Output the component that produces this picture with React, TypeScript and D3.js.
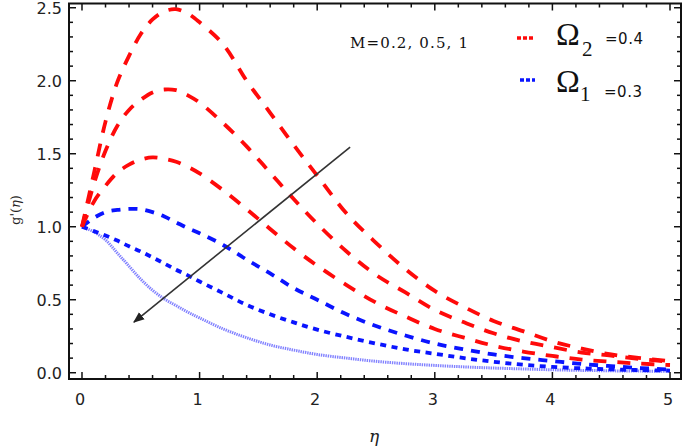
import * as d3 from "d3"

// eta grid shared by all curves
const ETA = [0, 0.1, 0.2, 0.3, 0.4, 0.5, 0.6, 0.7, 0.8, 0.9, 1.0, 1.2, 1.4, 1.6, 1.8, 2.0, 2.25, 2.5, 2.75, 3.0, 3.25, 3.5, 3.75, 4.0, 4.25, 4.5, 4.75, 5.0]

// Omega2 = 0.4 (red), M = 0.2, 0.5, 1
const RED_M02 = [1.0, 1.36, 1.72, 1.99, 2.17, 2.32, 2.42, 2.475, 2.49, 2.46, 2.4, 2.25, 2.0, 1.78, 1.56, 1.35, 1.09, 0.89, 0.71, 0.56, 0.45, 0.355, 0.285, 0.215, 0.165, 0.125, 0.1, 0.08]
const RED_M05 = [1.0, 1.29, 1.52, 1.69, 1.8, 1.87, 1.92, 1.94, 1.935, 1.9, 1.85, 1.71, 1.55, 1.37, 1.19, 1.02, 0.83, 0.67, 0.55, 0.43, 0.345, 0.27, 0.215, 0.175, 0.138, 0.117, 0.094, 0.075]
const RED_M1 = [1.0, 1.17, 1.28, 1.37, 1.425, 1.46, 1.475, 1.465, 1.445, 1.41, 1.365, 1.25, 1.12, 0.985, 0.852, 0.733, 0.6, 0.48, 0.385, 0.3, 0.24, 0.185, 0.145, 0.115, 0.09, 0.075, 0.062, 0.053]

// Omega1 = 0.3 (blue), M = 0.2, 0.5, 1
const BLUE_M02 = [1.0, 1.06, 1.1, 1.115, 1.122, 1.12, 1.1, 1.07, 1.03, 0.99, 0.955, 0.875, 0.775, 0.68, 0.58, 0.5, 0.4, 0.32, 0.255, 0.2, 0.16, 0.125, 0.1, 0.08, 0.06, 0.045, 0.032, 0.022]
const BLUE_M05 = [1.0, 0.97, 0.94, 0.905, 0.866, 0.83, 0.79, 0.748, 0.705, 0.667, 0.625, 0.545, 0.465, 0.4, 0.345, 0.295, 0.245, 0.2, 0.16, 0.13, 0.1, 0.075, 0.055, 0.04, 0.03, 0.023, 0.018, 0.015]
const BLUE_M1 = [1.0, 0.965, 0.91, 0.82, 0.73, 0.64, 0.565, 0.505, 0.46, 0.415, 0.375, 0.3, 0.24, 0.19, 0.155, 0.125, 0.1, 0.078, 0.062, 0.05, 0.04, 0.032, 0.026, 0.02, 0.016, 0.013, 0.011, 0.01]

const X_TICKS = [0, 1, 2, 3, 4, 5]
const Y_TICKS = [0, 0.5, 1.0, 1.5, 2.0, 2.5]

// arrow drawn across the curves, [eta, g] from tail to head
const ARROW = [
  [2.28, 1.546],
  [0.442, 0.347],
]

const W = 685
const H = 448
const LEFT = 69
const RIGHT = 681
const TOP = 3.5
const BOTTOM = 379

const x = d3.scaleLinear().domain([-0.1105, 5.0935]).range([LEFT, RIGHT])
const y = d3.scaleLinear().domain([-0.043, 2.529]).range([BOTTOM, TOP])

const line = d3
  .line<number>()
  .x((_, i) => x(ETA[i]))
  .y((d) => y(d))
  .curve(d3.curveCatmullRom)

const SERIES = [
  { id: "bm1", values: BLUE_M1, color: "#6262ff", width: 3, dash: "1.4 0.9", opacity: 0.8 },
  { id: "bm05", values: BLUE_M05, color: "#0a14ff", width: 3.8, dash: "6 5.5", opacity: 1 },
  { id: "bm02", values: BLUE_M02, color: "#0a14ff", width: 3.8, dash: "9 8", opacity: 1 },
  { id: "rm1", values: RED_M1, color: "#ff0a0a", width: 3.8, dash: "13 11", opacity: 1 },
  { id: "rm05", values: RED_M05, color: "#ff0a0a", width: 3.8, dash: "13 11", opacity: 1 },
  { id: "rm02", values: RED_M02, color: "#ff0a0a", width: 3.8, dash: "13 11", opacity: 1 },
]

const tickFont = "'DejaVu Sans', sans-serif"

export default function App() {
  const xMinor = d3.range(0, 5.01, 0.2)
  const yMinor = d3.range(0, 2.51, 0.1)

  return (
    <svg
      width={W}
      height={H}
      viewBox={`0 0 ${W} ${H}`}
      style={{ position: "absolute", left: 0, top: 0, background: "white" }}
    >
      <defs>
        <marker id="head" viewBox="0 0 10 10" refX="9" refY="5" markerWidth="7" markerHeight="7" orient="auto">
          <path d="M0,1 L10,5 L0,9 Z" fill="#222" />
        </marker>
        <clipPath id="plot">
          <rect x={LEFT} y={TOP} width={RIGHT - LEFT} height={BOTTOM - TOP} />
        </clipPath>
      </defs>

      <g clipPath="url(#plot)">
        {SERIES.map((s) => (
          <path
            key={s.id}
            d={line(s.values) ?? ""}
            fill="none"
            stroke={s.color}
            strokeWidth={s.width}
            strokeDasharray={s.dash}
            strokeOpacity={s.opacity}
          />
        ))}
        <line
          x1={x(ARROW[0][0])}
          y1={y(ARROW[0][1])}
          x2={x(ARROW[1][0])}
          y2={y(ARROW[1][1])}
          stroke="#333"
          strokeWidth={1.6}
          markerEnd="url(#head)"
        />
      </g>

      {/* frame */}
      <rect x={LEFT} y={TOP} width={RIGHT - LEFT} height={BOTTOM - TOP} fill="none" stroke="#111" strokeWidth={2} />

      {/* x ticks bottom + top */}
      {xMinor.map((t) => {
        const major = Math.abs(t - Math.round(t)) < 1e-6
        const len = major ? 7 : 4
        return (
          <g key={`xt${t}`} stroke="#111" strokeWidth={1.5}>
            <line x1={x(t)} x2={x(t)} y1={BOTTOM} y2={BOTTOM - len} />
            <line x1={x(t)} x2={x(t)} y1={TOP} y2={TOP + len} />
          </g>
        )
      })}
      {/* y ticks left + right */}
      {yMinor.map((t) => {
        const major = Math.abs(t * 2 - Math.round(t * 2)) < 1e-6
        const len = major ? 7 : 4
        return (
          <g key={`yt${t}`} stroke="#111" strokeWidth={1.5}>
            <line x1={LEFT} x2={LEFT + len} y1={y(t)} y2={y(t)} />
            <line x1={RIGHT} x2={RIGHT - len} y1={y(t)} y2={y(t)} />
          </g>
        )
      })}

      {X_TICKS.map((t) => (
        <text key={`xl${t}`} x={x(t) - 2} y={405} textAnchor="middle" fontFamily={tickFont} fontSize={16} fill="#222">
          {t}
        </text>
      ))}
      {Y_TICKS.map((t) => (
        <text key={`yl${t}`} x={62} y={y(t) + 6} textAnchor="end" fontFamily={tickFont} fontSize={16} fill="#222">
          {t.toFixed(1)}
        </text>
      ))}

      {/* axis labels */}
      <text x={374} y={442} textAnchor="middle" fontFamily="'DejaVu Serif', serif" fontStyle="italic" fontSize={17} fill="#222">
        η
      </text>
      <text
        transform="translate(20,210) rotate(-90)"
        textAnchor="middle"
        fontFamily="'DejaVu Serif', serif"
        fontSize={13}
        fill="#222"
      >
        g'(<tspan fontStyle="italic">η</tspan>)
      </text>

      {/* annotation */}
      <text x={350} y={48} fontFamily="'DejaVu Serif', serif" fontSize={15} textLength={118} fill="#111">
        M=0.2, 0.5, 1
      </text>

      {/* legend */}
      <line x1={517} x2={533} y1={38} y2={38} stroke="#ff0a0a" strokeWidth={3.5} strokeDasharray="4 2" />
      <text x={556} y={45} fontFamily="'Liberation Serif', serif" fontSize={32} fill="#111">
        Ω
      </text>
      <text x={582} y={56} fontFamily="'Liberation Serif', serif" fontSize={21} fill="#111">
        2
      </text>
      <text x={605} y={44} fontFamily="'DejaVu Sans', sans-serif" fontSize={15} textLength={38} fill="#111">
        =0.4
      </text>

      <line x1={520} x2={535} y1={80} y2={80} stroke="#0a14ff" strokeWidth={3.5} strokeDasharray="4 2" />
      <text x={556} y={92} fontFamily="'Liberation Serif', serif" fontSize={32} fill="#111">
        Ω
      </text>
      <text x={580} y={101} fontFamily="'Liberation Serif', serif" fontSize={21} fill="#111">
        1
      </text>
      <text x={604} y={97} fontFamily="'DejaVu Sans', sans-serif" fontSize={15} textLength={38} fill="#111">
        =0.3
      </text>
    </svg>
  )
}
